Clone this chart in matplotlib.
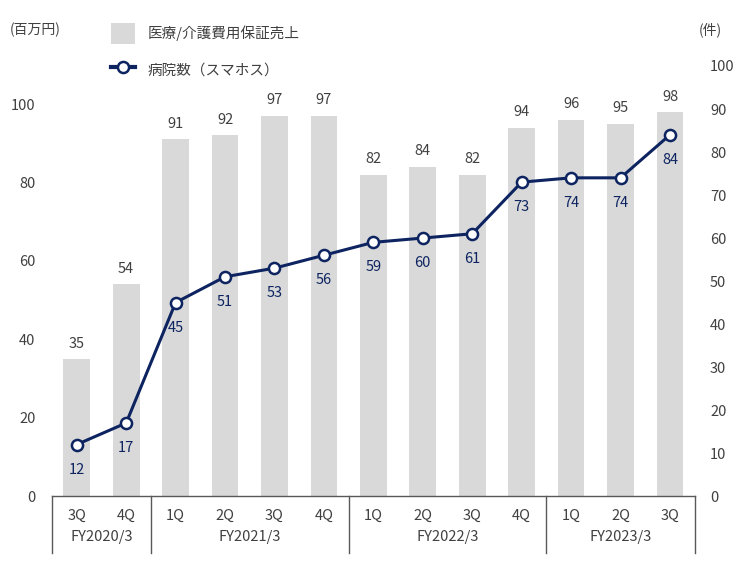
import matplotlib.pyplot as plt
import matplotlib.transforms as mtransforms
from matplotlib.lines import Line2D
from matplotlib.patches import Patch

plt.rcParams['font.family'] = ['Noto Sans CJK JP', 'DejaVu Sans']

quarters = ['3Q', '4Q', '1Q', '2Q', '3Q', '4Q', '1Q', '2Q', '3Q', '4Q', '1Q', '2Q', '3Q']
groups = ['FY2020/3', 'FY2021/3', 'FY2022/3', 'FY2023/3']
group_sizes = [2, 4, 4, 3]
sales = [35, 54, 91, 92, 97, 97, 82, 84, 82, 94, 96, 95, 98]
hospitals = [12, 17, 45, 51, 53, 56, 59, 60, 61, 73, 74, 74, 84]

bar_color = '#d9d9d9'
line_color = '#0d2461'
text_color = '#404040'

fig = plt.figure(figsize=(7.43, 5.67), dpi=100)
ax = fig.add_axes([0.070, 0.125, 0.865, 0.7586])
ax2 = ax.twinx()

x = list(range(len(sales)))
ax.bar(x, sales, width=0.54, color=bar_color, zorder=1)
for xi, v in zip(x, sales):
    ax.annotate(str(v), (xi, v), xytext=(0, 6), textcoords='offset points',
                ha='center', va='bottom', fontsize=10.5, color=text_color)

ax2.plot(x, hospitals, color=line_color, lw=2.2, marker='o', markersize=8,
         markerfacecolor='white', markeredgecolor=line_color, markeredgewidth=1.8, zorder=3)
for xi, v in zip(x, hospitals):
    ax2.annotate(str(v), (xi, v), xytext=(0, -13), textcoords='offset points',
                 ha='center', va='top', fontsize=10.5, color=line_color)

ax.set_xlim(-0.5, len(sales) - 0.5)
ax.set_ylim(0, 109.7)
ax2.set_ylim(0, 100)
ax.set_yticks(range(0, 101, 20))
ax2.set_yticks(range(0, 101, 10))
ax.set_xticks(x)
ax.set_xticklabels(quarters)

for a in (ax, ax2):
    for s in a.spines.values():
        s.set_visible(False)
    a.tick_params(length=0, labelsize=10.5, colors=text_color)
ax.tick_params(axis='x', pad=9)
ax.tick_params(axis='y', pad=12)
ax2.tick_params(axis='y', pad=11)
ax.spines['bottom'].set_visible(True)
ax.spines['bottom'].set_color('#595959')
ax.spines['bottom'].set_linewidth(1.0)

trans = mtransforms.blended_transform_factory(ax.transData, ax.transAxes)
start = -0.5
bounds = [start]
for g, n in zip(groups, group_sizes):
    end = start + n
    ax.text((start + end) / 2, -0.095, g, transform=trans, ha='center', va='center',
            fontsize=10.5, color=text_color)
    start = end
    bounds.append(end)
for b in bounds:
    ax.plot([b, b], [0, -0.133], transform=trans, color='#595959', lw=1.0, clip_on=False)

fig.text(0.013, 0.947, '(百万円)', fontsize=10, color=text_color, va='center')
fig.text(0.940, 0.947, '(件)', fontsize=10, color=text_color, va='center')

handles = [Patch(facecolor=bar_color, edgecolor='none'),
           Line2D([], [], color=line_color, lw=3, marker='o', markersize=8,
                  markerfacecolor='white', markeredgecolor=line_color, markeredgewidth=1.8)]
labels = ['医療/介護費用保証売上', '病院数（スマホス）']
fig.legend(handles, labels, loc='upper left', bbox_to_anchor=(0.132, 0.982), frameon=False,
           fontsize=10.5, labelcolor=text_color, handlelength=1.6, handleheight=1.8,
           labelspacing=1.05, handletextpad=0.9)

fig.savefig('out.png', dpi=100)
